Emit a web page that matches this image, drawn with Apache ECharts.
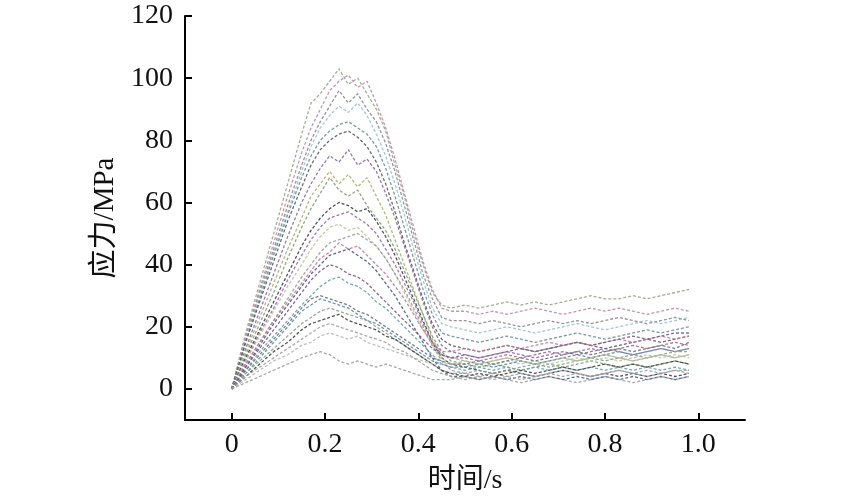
<!DOCTYPE html>
<html><head><meta charset="utf-8">
<script src="https://cdn.jsdelivr.net/npm/echarts@6/dist/echarts.min.js"></script>
<style>html,body{margin:0;padding:0;background:#fff}#c{width:841px;height:500px}</style>
</head><body><div id="c"></div>
<script>
// time samples (s)
const T = [0,0.03,0.06,0.09,0.12,0.15,0.17,0.19,0.21,0.23,0.25,0.27,0.29,0.31,0.33,0.35,0.37,0.39,0.41,0.43,0.45,0.47,
  0.50,0.53,0.56,0.59,0.62,0.65,0.68,0.71,0.74,0.77,0.80,0.83,0.86,0.89,0.92,0.95,0.98];
const xTicks = [0,0.2,0.4,0.6,0.8,1.0];
const xTickLabels = ['0','0.2','0.4','0.6','0.8','1.0'];
const yTicks = [0,20,40,60,80,100,120];
const yTickLabels = ['0','20','40','60','80','100','120'];
// stress curves (MPa)
const s1 = [0,18,34,50,66,82,92,95,99,103, 98,100,95,90,83,72,62,50,40,31,27,26, 27,26,27,28,27,28,27,28,29,30,29,29,30,29,30,31,32];
const s2 = [0,17,32,47,62,76,84,90,96,99, 101,97,99,92,84,74,63,52,41,32,26,25, 25,24,25,24,25,26,25,24,25,26,25,26,25,24,25,26,25];
const s3 = [0,16,31,45,59,72,80,86,91,96, 92,95,90,86,79,70,59,48,37,29,23,22, 22,21,22,21,20,21,22,21,22,21,22,23,22,21,22,23,22];
const s4 = [0,16,30,44,57,70,78,84,88,91, 89,92,88,82,75,66,56,45,35,26,21,20, 19,18,19,20,19,18,19,20,21,20,19,20,21,22,21,22,23];
const s5 = [0,15,29,43,56,68,75,80,83,85, 86,84,82,78,71,62,52,42,32,24,18,17, 16,15,16,17,16,15,16,17,18,17,16,17,18,19,18,19,20];
const s6 = [0,15,28,41,54,65,72,77,80,82, 83,81,78,73,66,57,47,38,29,21,16,14, 13,12,13,14,13,12,13,14,15,14,13,14,15,16,15,16,17];
const s7 = [0,13,25,37,49,60,66,71,75,73, 77,72,74,70,63,55,46,37,28,20,14,12, 11,10,11,12,11,10,11,12,11,12,13,12,11,12,13,12,13];
const s8 = [0,12,23,34,45,55,62,66,70,66, 69,65,68,62,56,48,40,32,24,16,11,10, 9,8,9,10,9,8,9,10,9,10,11,10,9,10,11,10,11];
const s9 = [0,11,21,31,42,52,58,63,68,64, 62,64,59,55,51,45,38,31,24,17,12,9, 8,7,8,7,6,7,8,7,8,9,8,7,8,7,8,9,8];
const s10 = [0,10,19,28,37,46,51,55,58,60, 59,57,58,54,49,43,36,29,22,15,10,8, 7,6,5,6,5,4,5,6,5,4,5,4,5,4,5,4,5];
const s11 = [0,9,18,26,35,43,48,52,55,56, 57,55,53,50,45,40,34,28,21,15,11,10, 10,9,10,11,10,11,12,11,12,13,12,13,14,13,14,15,14];
const s12 = [0,9,17,25,33,40,45,49,52,53, 51,52,49,46,42,37,31,25,19,14,10,8, 8,7,8,9,8,9,8,9,10,9,10,9,10,11,10,11,10];
const s13 = [0,8,15,22,29,36,40,44,47,48, 49,50,48,46,42,37,32,26,20,14,9,6, 5,4,5,4,5,4,5,6,5,4,5,6,5,4,5,6,5];
const s14 = [0,8,15,22,28,34,38,42,44,47, 45,46,43,40,37,33,29,24,19,15,12,12, 13,12,13,14,13,14,15,14,15,14,15,16,15,16,17,16,17];
const s15 = [0,7,14,21,27,33,37,40,43,44, 45,43,41,38,34,30,25,20,15,10,6,4, 4,3,4,3,4,3,4,3,4,3,4,3,4,3,4,3,4];
const s16 = [0,7,13,19,25,31,35,38,40,39, 37,36,34,31,28,25,22,19,16,13,11,10, 11,10,11,12,13,12,13,14,15,14,15,16,17,16,17,18,18];
const s17 = [0,6,12,17,22,27,30,33,35,36, 34,33,31,28,26,23,20,17,14,11,8,7, 6,7,6,7,6,7,6,7,6,7,6,7,6,7,6,7,6];
const s18 = [0,6,11,16,21,26,29,30,29,28, 27,25,24,22,20,18,16,14,12,10,9,8, 8,9,8,9,10,9,10,11,12,11,12,13,12,13,14,13,15];
const s19 = [0,5,10,15,20,25,27,29,28,27, 26,24,22,21,19,17,15,13,11,9,8,7, 7,8,7,8,9,8,9,10,11,10,11,12,11,12,13,12,13];
const s20 = [0,5,9,13,17,21,23,25,26,25, 24,23,22,20,18,16,14,12,10,8,6,5, 5,6,5,6,7,8,7,8,9,10,9,10,11,10,11,12,12];
const s21 = [0,4,8,12,15,19,21,22,23,24, 22,21,20,19,17,16,14,12,10,8,6,5, 4,5,4,5,6,5,6,7,6,7,8,7,8,7,8,9,8];
const s22 = [0,4,7,10,13,16,18,20,21,20, 19,18,17,16,15,13,12,10,8,6,5,4, 3,4,3,4,3,4,5,4,5,4,5,6,5,6,5,6,6];
const s23 = [0,3,6,9,11,14,15,17,18,17, 16,17,15,14,13,12,11,10,9,8,8,8, 9,8,9,10,9,8,9,10,9,10,11,10,9,10,11,10,11];
const s24 = [0,2,4,6,8,10,11,12,11,9, 8,9,8,7,8,7,6,5,4,3,3,3, 4,3,4,3,2,3,4,3,2,3,4,3,2,3,4,3,4];
const curves = [s1,s2,s3,s4,s5,s6,s7,s8,s9,s10,s11,s12,s13,s14,s15,s16,s17,s18,s19,s20,s21,s22,s23,s24];
const colors = ['#9aa58a','#c08aa8','#8a8a8a','#9cc0cc','#6e8f96','#5a5a5a','#8a6aa0','#a8b070','#7fa07a','#3e3e46',
  '#9a6aa0','#b6c89a','#9a9a9a','#c07a98','#4e5a82','#7a5a8e','#6aa0a8','#707070','#5a88a8','#8fa08a','#404040','#a0a0a0','#b8b8b8','#9aa0a0'];

const chart = echarts.init(document.getElementById('c'), null, {renderer:'canvas'});
const serif = '"Liberation Serif","Times New Roman","Noto Sans CJK SC",serif';
chart.setOption({
  animation:false,
  backgroundColor:'#fff',
  grid:{left:185,right:96,top:16,bottom:80},
  xAxis:{type:'value',min:-0.1,max:1.1,
    name:'时间/s',nameLocation:'middle',nameGap:47,
    nameTextStyle:{fontFamily:serif,fontSize:28,color:'#111'},
    axisLine:{show:true,onZero:false,lineStyle:{color:'#000',width:2}},
    axisTick:{show:true,inside:true,length:7,lineStyle:{color:'#000',width:2},customValues:xTicks},
    axisLabel:{fontFamily:serif,fontSize:28,color:'#111',margin:11,customValues:xTicks,
      formatter:v=>{const i=xTicks.findIndex(x=>Math.abs(x-v)<1e-6);return i>=0?xTickLabels[i]:'';}},
    splitLine:{show:false}},
  yAxis:{type:'value',min:-10,max:120,
    name:'应力/MPa',nameLocation:'middle',nameGap:60,nameRotate:90,
    nameTextStyle:{fontFamily:serif,fontSize:29,color:'#111'},
    axisLine:{show:true,onZero:false,lineStyle:{color:'#000',width:2}},
    axisTick:{show:true,inside:true,length:7,lineStyle:{color:'#000',width:2},customValues:yTicks},
    axisLabel:{fontFamily:serif,fontSize:28,color:'#111',margin:12,customValues:yTicks,
      formatter:v=>{const i=yTicks.findIndex(x=>Math.abs(x-v)<1e-6);return i>=0?yTickLabels[i]:'';}},
    splitLine:{show:false}},
  series: curves.map((c,k)=>({
    type:'line',showSymbol:false,symbol:'none',
    data:c.map((v,i)=>[T[i],v]),
    lineStyle:{color:colors[k],width:1.3,type:[3,2],opacity:0.9},
    z:2
  }))
});
</script></body></html>
